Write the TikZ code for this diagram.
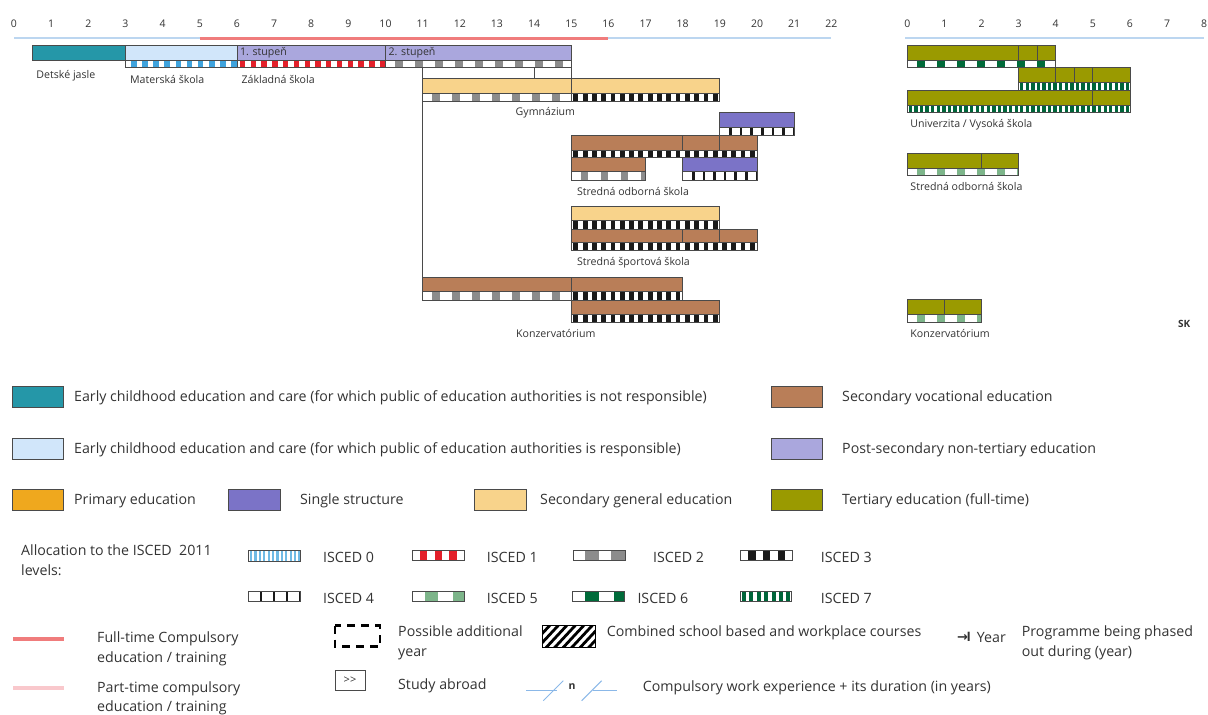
\documentclass[tikz,border=0pt]{standalone}
\usepackage{fontspec}
\setmainfont{Open Sans}
\newfontfamily\symfont{DejaVu Sans}
\definecolor{teal1}{HTML}{2597A8}
\definecolor{lblue}{HTML}{D1E6FA}
\definecolor{lav}{HTML}{AAA7DD}
\definecolor{purp}{HTML}{7B73C7}
\definecolor{orng}{HTML}{EFA81E}
\definecolor{ylw}{HTML}{F8D38B}
\definecolor{brwn}{HTML}{B97E58}
\definecolor{olive1}{HTML}{9A9A00}
\definecolor{iz}{HTML}{3FA3DD}
\definecolor{ia}{HTML}{E3202A}
\definecolor{ib}{HTML}{8C8C8C}
\definecolor{ic}{HTML}{1A1A1A}
\definecolor{ie}{HTML}{7DB58A}
\definecolor{if}{HTML}{006B3A}
\definecolor{ig}{HTML}{00653A}
\definecolor{axblue}{HTML}{BCD6F0}
\definecolor{axred}{HTML}{F07C7C}
\definecolor{ptpink}{HTML}{F9C8CC}
\definecolor{edge}{HTML}{4A4A4A}
\definecolor{txt}{HTML}{333333}
\definecolor{wexp}{HTML}{8BB8E8}
\tikzset{
  box/.style={draw=edge, line width=0.8pt},
  ax/.style={font=\fontsize{10.5}{13}\selectfont, text=txt, inner sep=0},
  lab/.style={font=\fontsize{10.6}{12}\selectfont, text=txt, anchor=west, inner sep=0},
  legt/.style={font=\fontsize{14.2}{20}\selectfont, text=txt, anchor=west, inner sep=0, align=left},
  sw/.style={draw=edge, line width=0.8pt},
}
\newcommand\progbox[5]{\filldraw[fill=#5, box] (#1,#3) rectangle (#2,#4);}
\newcommand\divl[3]{\draw[box] (#1,#2) -- (#1,#3);}
\newcommand\iscedbar[8]{%
  \begin{scope}
    \clip (#1,#3) rectangle (#2,#4);
    \fill[white] (#1,#3) rectangle (#2,#4);
    \pgfmathtruncatemacro\nst{ceil((#2-#1)/#6)}
    \foreach \k in {0,...,\nst}{\fill[#5] ({#1+#8+\k*#6},#3) rectangle ({#1+#8+\k*#6+#7},#4);}
  \end{scope}
  \draw[box] (#1,#3) rectangle (#2,#4);}
\begin{document}
\begin{tikzpicture}[x=1pt,y=-1pt]
\useasboundingbox (0,0) rectangle (1208,715);
% ================= main chart =================
\begin{scope}[xshift=14pt,x=37.15pt]
  \foreach \n in {0,...,22} \node[ax] (ma\n) at (\n,23.5) {\n};
  \draw[axblue, line width=2pt] (0,38) -- (22,38);
  \draw[axred, line width=3pt] (5,38) -- (16,38);
  % connectors
  \coordinate (c11a) at (11,67.5); \coordinate (c11b) at (11,277.3);
  \coordinate (c14a) at (14,67.5); \coordinate (c14b) at (14,78);
  \coordinate (c15a) at (15,67.5); \coordinate (c15b) at (15,78);
  \draw[box] (c11a) -- (c11b);
  \draw[box] (c14a) -- (c14b);
  \draw[box] (c15a) -- (c15b);
  % row 1
  \progbox{0.5}{3}{45.5}{60}{teal1}
  \progbox{3}{6}{45.5}{60}{lblue}
  \iscedbar{3}{6}{60}{67.5}{iz}{0.3}{0.15}{0.15}
  \progbox{6}{15}{45.5}{60}{lav}
  \divl{10}{45.5}{60}
  \iscedbar{6}{10}{60}{67.5}{ia}{0.29}{0.145}{0.08}
  \iscedbar{10}{15}{60}{67.5}{ib}{0.54}{0.21}{0.25}
  \node[lab] (st1) at (6.08,52.5) {1. stupeň};
  \node[lab] (st2) at (10.08,52.5) {2. stupeň};
  \node[lab] (ldj) at (0.6,75.5) {Detské jasle};
  \node[lab] (lms) at (3.12,79.5) {Materská škola};
  \node[lab] (lzs) at (6.12,79.5) {Základná škola};
  % gymnazium
  \progbox{11}{19}{78}{93}{ylw}
  \divl{15}{78}{93}
  \iscedbar{11}{15}{93}{101}{ib}{0.54}{0.21}{0.25}
  \iscedbar{15}{19}{93}{101}{ic}{0.25}{0.13}{0.06}
  \node[lab] (lgy) at (13.5,112.5) {Gymnázium};
  % post-secondary
  \progbox{19}{21}{112.5}{127}{purp}
  \iscedbar{19}{21}{127}{135}{ic}{0.2857}{0.07}{0.25}
  % SOS
  \progbox{15}{20}{135}{150}{brwn}
  \divl{18}{135}{150}\divl{19}{135}{150}
  \iscedbar{15}{20}{150}{157.3}{ic}{0.25}{0.13}{0.06}
  \progbox{15}{17}{157.3}{171.7}{brwn}
  \iscedbar{15}{17}{171.7}{180}{ib}{0.54}{0.21}{0.25}
  \progbox{18}{20}{157.3}{171.7}{purp}
  \iscedbar{18}{20}{171.7}{180}{ic}{0.2857}{0.07}{0.25}
  \node[lab] (lsos) at (15.15,191.5) {Stredná odborná škola};
  % sport
  \progbox{15}{19}{206.7}{220.7}{ylw}
  \iscedbar{15}{19}{220.7}{229}{ic}{0.25}{0.13}{0.06}
  \progbox{15}{20}{229}{242.7}{brwn}
  \divl{18}{229}{242.7}\divl{19}{229}{242.7}
  \iscedbar{15}{20}{242.7}{250.7}{ic}{0.25}{0.13}{0.06}
  \node[lab] (lsss) at (15.15,262.5) {Stredná športová škola};
  % konzervatorium
  \progbox{11}{18}{277.3}{291.7}{brwn}
  \divl{15}{277.3}{291.7}
  \iscedbar{11}{15}{291.7}{300}{ib}{0.54}{0.21}{0.25}
  \iscedbar{15}{18}{291.7}{300}{ic}{0.25}{0.13}{0.06}
  \progbox{15}{19}{300}{314}{brwn}
  \iscedbar{15}{19}{314}{322}{ic}{0.25}{0.13}{0.06}
  \node[lab] (lkz) at (13.51,333.5) {Konzervatórium};
\end{scope}
% ================= tertiary =================
\begin{scope}[xshift=907.3pt,x=37.1pt]
  \foreach \n in {0,...,8} \node[ax] (ta\n) at (\n,23.5) {\n};
  \draw[axblue, line width=2pt] (-0.05,37.5) -- (8,37.5);
  \progbox{0}{4}{45.7}{60}{olive1}
  \divl{3}{45.7}{60}\divl{3.5}{45.7}{60}
  \iscedbar{0}{4}{60}{67.7}{if}{0.54}{0.22}{0.25}
  \progbox{3}{6}{67.7}{82}{olive1}
  \divl{4}{67.7}{82}\divl{4.5}{67.7}{82}\divl{5}{67.7}{82}
  \iscedbar{3}{6}{82}{90.3}{ig}{0.15}{0.09}{0.04}
  \progbox{0}{6}{90.3}{105.3}{olive1}
  \divl{5}{90.3}{105.3}
  \iscedbar{0}{6}{105.3}{112.7}{ig}{0.15}{0.09}{0.04}
  \node[lab] (luv) at (0.08,124.5) {Univerzita / Vysoká škola};
  \progbox{0}{3}{153.3}{168.3}{olive1}
  \divl{2}{153.3}{168.3}
  \iscedbar{0}{3}{168.3}{175.7}{ie}{0.54}{0.22}{0.25}
  \node[lab] (ltsos) at (0.08,186.5) {Stredná odborná škola};
  \progbox{0}{2}{299.3}{314.3}{olive1}
  \divl{1}{299.3}{314.3}
  \iscedbar{0}{2}{314.3}{322.7}{ie}{0.54}{0.22}{0.25}
  \node[lab] (ltkz) at (0.08,333.5) {Konzervatórium};
\end{scope}
\node[lab, font=\fontsize{10}{12}\selectfont\bfseries] (sk) at (1178,323.5) {SK};
% ================= legend =================
\filldraw[sw, fill=teal1] (12,386) rectangle (63,407);
\node[legt] (l1) at (74,398) {Early childhood education and care (for which public of education authorities is not responsible)};
\filldraw[sw, fill=lblue] (12,438) rectangle (63,459);
\node[legt] (l2) at (74,450) {Early childhood education and care (for which public of education authorities is responsible)};
\filldraw[sw, fill=orng] (12,489) rectangle (63,510);
\node[legt] (l3) at (74,500.5) {Primary education};
\filldraw[sw, fill=purp] (228,489) rectangle (280,510);
\node[legt] (l4) at (300,500.5) {Single structure};
\filldraw[sw, fill=ylw] (474,489) rectangle (526,510);
\node[legt] (l5) at (540,500.5) {Secondary general education};
\filldraw[sw, fill=brwn] (771,386) rectangle (822,407);
\node[legt] (l6) at (842,398) {Secondary vocational education};
\filldraw[sw, fill=lav] (771,438) rectangle (822,459);
\node[legt] (l7) at (842,450) {Post-secondary non-tertiary education};
\filldraw[sw, fill=olive1] (771,489) rectangle (822,510);
\node[legt] (l8) at (842,500.5) {Tertiary education (full-time)};
% ISCED
\node[legt, anchor=north west] (lalloc) at (21,545) {Allocation to the ISCED\ \ 2011\\levels:};
\iscedbar{248}{300}{550}{561}{iz!75}{4.4}{2.2}{2}
\node[legt] (i0) at (323,557) {ISCED 0};
\iscedbar{412.3}{464}{550.7}{560.7}{ia}{14.8}{7.4}{7.4}
\node[legt] (i1) at (486.7,557) {ISCED 1};
\iscedbar{573.3}{625}{550.7}{560.7}{ib}{26}{14}{11.7}
\node[legt] (i2) at (653,557) {ISCED 2};
\iscedbar{740.7}{792.5}{550.7}{560.7}{ic}{14.8}{7.4}{7.4}
\node[legt] (i3) at (820.7,557) {ISCED 3};
\iscedbar{248}{300}{591.7}{601.7}{ic}{13}{1.5}{12}
\node[legt] (i4) at (323,598) {ISCED 4};
\iscedbar{412.3}{464}{591.7}{601.7}{ie}{28.3}{13.3}{12.7}
\node[legt] (i5) at (486.7,598) {ISCED 5};
\iscedbar{572.7}{624}{591.7}{601.7}{if}{28.3}{13.3}{12.7}
\node[legt] (i6) at (637.3,598) {ISCED 6};
\iscedbar{740}{791.7}{591.7}{601.7}{ig}{7.4}{4}{2}
\node[legt] (i7) at (820.7,598) {ISCED 7};
% compulsory lines
\draw[axred, line width=4pt] (13,639.3) -- (64,639.3);
\node[legt] (lft) at (97,649) {Full-time Compulsory\\education / training};
\draw[ptpink, line width=4pt] (13,688.3) -- (64,688.3);
\node[legt, font=\fontsize{14.2}{19}\selectfont] (lpt) at (97,698.5) {Part-time compulsory\\education / training};
% possible additional year
\draw[black, line width=2.2pt, dash pattern=on 8pt off 6pt] (335,625.5) rectangle (380,646.5);
\node[legt] (lpay) at (398,643) {Possible additional\\year};
% study abroad
\node[draw=edge, line width=0.8pt, minimum width=30pt, minimum height=20pt, inner sep=0, font=\fontsize{11}{12}\selectfont, text=txt] (sab) at (350,680) {{>}{>}};
\node[legt] (lsab) at (398,686) {Study abroad};
% combined
\begin{scope}
  \clip (542.7,625.7) rectangle (595,647.3);
  \fill[white] (542.7,625.7) rectangle (595,647.3);
  \foreach \k in {0,...,9} \draw[black, line width=2.8pt] ({525+\k*8.5},652) -- ++(28,-30);
\end{scope}
\draw[sw, draw=black] (542.7,625.7) rectangle (595,647.3);
\node[legt] (lcomb) at (606.7,633) {Combined school based and workplace courses};
% phased out
\node[legt, font=\fontsize{13}{16}\selectfont] (lyear) at (957,636.5) {{\symfont\bfseries →}\kern-1.5pt{\bfseries I}};
\node[legt] (lyear2) at (976.7,637) {Year};
\node[legt] (lphase) at (1021.7,643) {Programme being phased\\out during (year)};
% work experience
\coordinate (w1) at (526,690.7); \coordinate (w2) at (556.7,690.7);
\coordinate (w3) at (543.3,700.7); \coordinate (w4) at (563.3,680.7);
\coordinate (w5) at (581.7,700.7); \coordinate (w6) at (601.7,680.7);
\coordinate (w7) at (593,690.7); \coordinate (w8) at (617.3,690.7);
\draw[wexp, line width=1pt] (w1) -- (w2);
\draw[wexp, line width=1pt] (w3) -- (w4);
\draw[wexp, line width=1pt] (w5) -- (w6);
\draw[wexp, line width=1pt] (w7) -- (w8);
\node[lab, font=\fontsize{10.5}{12}\selectfont\bfseries] (wn) at (568.5,687) {n};
\node[legt] (lwexp) at (642.7,688) {Compulsory work experience + its duration (in years)};
\end{tikzpicture}
\end{document}
